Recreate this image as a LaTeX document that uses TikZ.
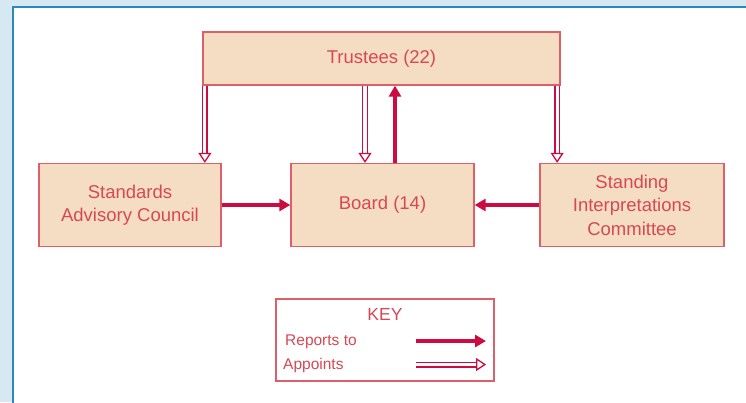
\documentclass[tikz,border=0pt]{standalone}
\usepackage{fontspec}
\setmainfont{Liberation Sans}
\usetikzlibrary{arrows.meta,calc}

\definecolor{pagebg}{HTML}{D6E8F1}
\definecolor{pageline}{HTML}{2F87BA}
\definecolor{boxfill}{HTML}{F5DDC4}
\definecolor{boxline}{HTML}{DC5F6A}
\definecolor{inkred}{HTML}{D64855}
\definecolor{arrowred}{HTML}{CC0C40}

\tikzset{
  unitbox/.style={draw=boxline, line width=1.3pt, fill=boxfill, text=inkred,
    align=center, inner sep=0pt,
    font=\fontsize{18.5}{23.5}\selectfont},
  reports/.style={draw=arrowred, line width=3.4pt,
    -{Triangle[length=11pt,width=12pt]}},
  appoint/.style={draw=arrowred, line width=1.4pt, double=white,
    double distance=3.2pt,
    -{Triangle[open,length=10pt,width=13pt,line width=1.3pt]}},
  keytext/.style={text=inkred, inner sep=0pt, font=\fontsize{15.5}{18}\selectfont}
}

\begin{document}
\begin{tikzpicture}[x=1pt,y=-1pt]
  \useasboundingbox (0,0) rectangle (746,402);
  % page background and white panel
  \fill[pagebg] (0,0) rectangle (746,402);
  \fill[white] (13,7) rectangle (760,420);
  \draw[pageline, line width=1.5pt] (13,420) -- (13,7) -- (760,7);

  % organisation boxes
  \node[unitbox, minimum width=357pt, minimum height=53pt] (t) at (381.5,58.5) {Trustees (22)};
  \node[unitbox, minimum width=182pt, minimum height=83pt] (sac) at (130,205) {Standards\\Advisory Council};
  \node[unitbox, minimum width=183pt, minimum height=83pt] (board) at (382.5,205) {Board (14)};
  \node[unitbox, minimum width=184pt, minimum height=83pt] (sic) at (632,205) {Standing\\Interpretations\\Committee};

  % appointments
  \draw[appoint] ([xshift=2.5pt]t.south west) -- ([xshift=2.5pt]t.south west |- sac.north);
  \draw[appoint] ([xshift=-16.5pt]t.south) -- ([xshift=-16.5pt]t.south |- board.north);
  \draw[appoint] ([xshift=-3.5pt]t.south east) -- ([xshift=-3.5pt]t.south east |- sic.north);

  % reporting lines
  \draw[reports] ([xshift=12.5pt]board.north) -- ([xshift=12.5pt]board.north |- t.south);
  \draw[reports] (sac.east) -- (board.west);
  \draw[reports] (sic.west) -- (board.east);

  % key
  \node[draw=boxline, line width=1.3pt, minimum width=218pt, minimum height=82pt, inner sep=0pt] (key) at (385,340) {};
  \node[keytext, anchor=base, font=\fontsize{17.5}{20}\selectfont] (keytitle) at (385,320) {KEY};
  \node[keytext, anchor=base west] (lrep) at (285,345) {Reports to};
  \node[keytext, anchor=base west] (lapp) at (283,369) {Appoints};
  \coordinate (r0) at (416,341);
  \coordinate (r1) at (486,341);
  \coordinate (a0) at (416,364.5);
  \coordinate (a1) at (486,364.5);
  \draw[reports] (r0) -- (r1);
  \draw[appoint] (a0) -- (a1);
\end{tikzpicture}
\end{document}
